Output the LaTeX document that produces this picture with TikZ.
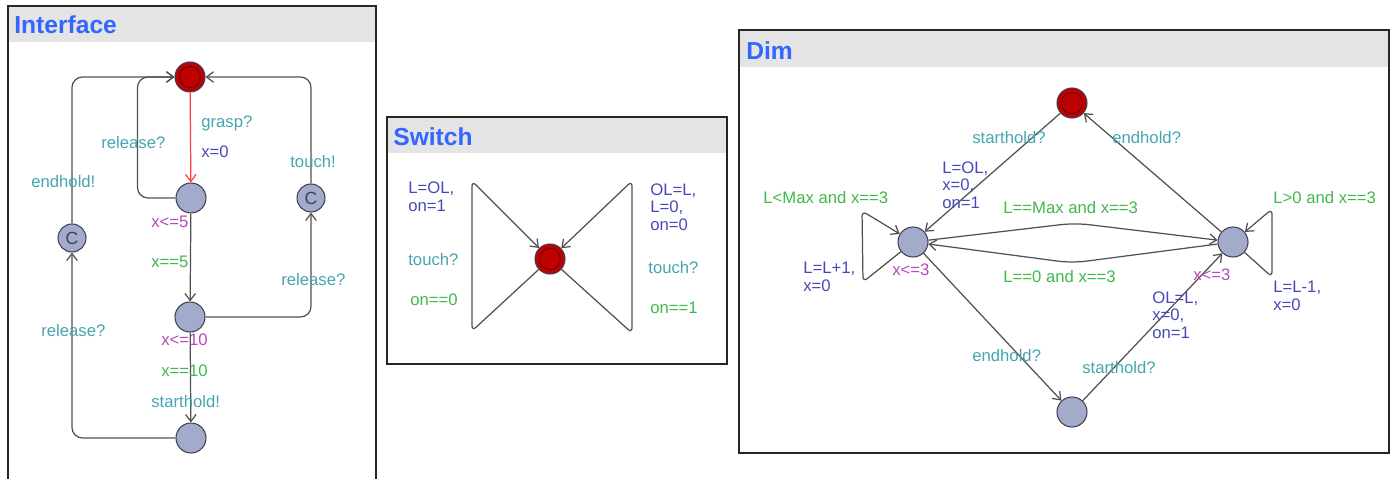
\documentclass[tikz,border=0pt]{standalone}
\usepackage{fontspec}
\setmainfont{Liberation Sans}
\usetikzlibrary{arrows.meta,positioning,calc}
\definecolor{syncc}{HTML}{45A5B0}
\definecolor{guardc}{HTML}{40B84A}
\definecolor{assignc}{HTML}{4848B8}
\definecolor{invc}{HTML}{B848B8}
\definecolor{locfill}{HTML}{A3ABCC}
\definecolor{locline}{HTML}{404050}
\definecolor{initred}{HTML}{C00000}
\definecolor{titleblue}{HTML}{3366FF}
\definecolor{headgray}{HTML}{E4E4E4}
\definecolor{edgec}{HTML}{505050}

\begin{document}
\begin{tikzpicture}[x=0.02cm,y=-0.02cm,>={Straight Barb[length=4pt,width=6pt]},
  font=\fontsize{9.5}{10}\selectfont,
  loc/.style={circle,draw=locline,fill=locfill,minimum size=0.6cm,inner sep=0pt,line width=0.6pt},
  initloc/.style={loc,fill=initred,path picture={\draw[black!60!red,line width=0.6pt] (path picture bounding box.center) circle (0.21cm);}},
  comm/.style={loc,minimum size=0.56cm,text=locline,font=\fontsize{10}{10}\selectfont},
  sync/.style={text=syncc,anchor=west,inner sep=0pt},
  guard/.style={text=guardc,anchor=west,inner sep=0pt},
  assign/.style={text=assignc,anchor=west,inner sep=0pt,align=left},
  inv/.style={text=invc,anchor=west,inner sep=0pt},
  edge/.style={draw=edgec,line width=0.7pt,->},
  frame/.style={draw=black!85,line width=1pt},
  title/.style={text=titleblue,anchor=west,inner sep=0pt,font=\bfseries\fontsize{14}{14}\selectfont}]
\useasboundingbox (0,0) rectangle (1391,479);

% panels
\fill[headgray] (9,7) rectangle (375,42);
\draw[frame] (8,482) -- (8,6) -- (376,6) -- (376,482);
\node[title] (tInt) at (14,25) {Interface};
\fill[headgray] (388,118) rectangle (726,153);
\draw[frame] (387,117) rectangle (727,364);
\node[title] (tSw) at (393,137) {Switch};
\fill[headgray] (740,31) rectangle (1388,67);
\draw[frame] (739,30) rectangle (1389,453);
\node[title] (tDim) at (746,51) {Dim};

% Interface
\node[initloc] (iInit) at (190,77) {};
\node[loc] (iA) at (191,198) {};
\node[loc] (iB) at (190,317) {};
\node[loc] (iC) at (191,438) {};
\node[comm] (iC1) at (72,238) {C};
\node[comm] (iC2) at (311,198) {C};
\draw[edge,draw=red!75] (iInit) -- (iA);
\draw[edge,rounded corners=6pt] (iA.west) -- ++(-38,0) |- (iInit.west);
\draw[edge] (iA) -- (iB);
\draw[edge,rounded corners=6pt] (iB.east) -| (iC2.south);
\draw[edge,rounded corners=6pt] (iC2.north) |- (iInit.east);
\draw[edge] (iB) -- (iC);
\draw[edge,rounded corners=6pt] (iC.west) -| (iC1.south);
\draw[edge,rounded corners=6pt] (iC1.north) |- (iInit.west);
\node[sync] (lGrasp) at (201,123) {grasp?};
\node[assign] (lX0) at (201,152) {x=0};
\node[sync] (lRel1) at (101,143) {release?};
\node[sync] (lTouch) at (290,162) {touch!};
\node[sync] (lEnd) at (31,182) {endhold!};
\node[inv] (lInvA) at (151,222) {x<=5};
\node[guard] (lX5) at (151,262) {x==5};
\node[sync] (lRel2) at (281,280) {release?};
\node[sync] (lRel3) at (41,331) {release?};
\node[inv] (lInvB) at (161,340) {x<=10};
\node[guard] (lX10) at (161,371) {x==10};
\node[sync] (lStart) at (151,402) {starthold!};

% Switch
\node[initloc] (sInit) at (550,259) {};
\draw[edge,rounded corners=3pt] (sInit) -- (472,331) -- (472,181) -- (sInit);
\draw[edge,rounded corners=3pt] (sInit) -- (632,333) -- (632,181) -- (sInit);
\node[assign] (sOn1) at (408,197) {L=OL,\\on=1};
\node[sync] (sTouch1) at (408,260) {touch?};
\node[guard] (sG0) at (410,300) {on==0};
\node[assign] (sOff) at (650,207) {OL=L,\\L=0,\\on=0};
\node[sync] (sTouch2) at (648,268) {touch?};
\node[guard] (sG1) at (650,308) {on==1};

% Dim
\node[initloc] (dInit) at (1072,103) {};
\node[loc] (dL) at (913,242) {};
\node[loc] (dR) at (1233,242) {};
\node[loc] (dB) at (1072,412) {};
\draw[edge] (dInit) -- (dL);
\draw[edge] (dR) -- (dInit);
\draw[edge,rounded corners=3pt] (dL) -- (863,282) -- (862,211) -- (dL);
\draw[edge,rounded corners=3pt] (dR) -- (1272,277) -- (1272,209) -- (dR);
\draw[edge,rounded corners=8pt] (dL) -- (1075,223) -- (dR);
\draw[edge,rounded corners=8pt] (dR) -- (1072,263) -- (dL);
\draw[edge] (dL) -- (dB);
\draw[edge] (dB) -- (dR);
\node[sync] (dStart1) at (972,138) {starthold?};
\node[assign] (dOn1) at (942,185) {L=OL,\\x=0,\\on=1};
\node[sync] (dEnd1) at (1112,138) {endhold?};
\node[guard] (dUp) at (763,198) {L<Max and x==3};
\node[guard] (dMax) at (1003,208) {L==Max and x==3};
\node[guard] (dDown) at (1273,198) {L>0 and x==3};
\node[assign] (dInc) at (803,277) {L=L+1,\\x=0};
\node[inv] (dInvL) at (892,270) {x<=3};
\node[guard] (dZero) at (1003,277) {L==0 and x==3};
\node[inv] (dInvR) at (1193,275) {x<=3};
\node[assign] (dDec) at (1273,296) {L=L-1,\\x=0};
\node[assign] (dOn2) at (1152,315) {OL=L,\\x=0,\\on=1};
\node[sync] (dEnd2) at (972,356) {endhold?};
\node[sync] (dStart2) at (1082,368) {starthold?};
\end{tikzpicture}
\end{document}
